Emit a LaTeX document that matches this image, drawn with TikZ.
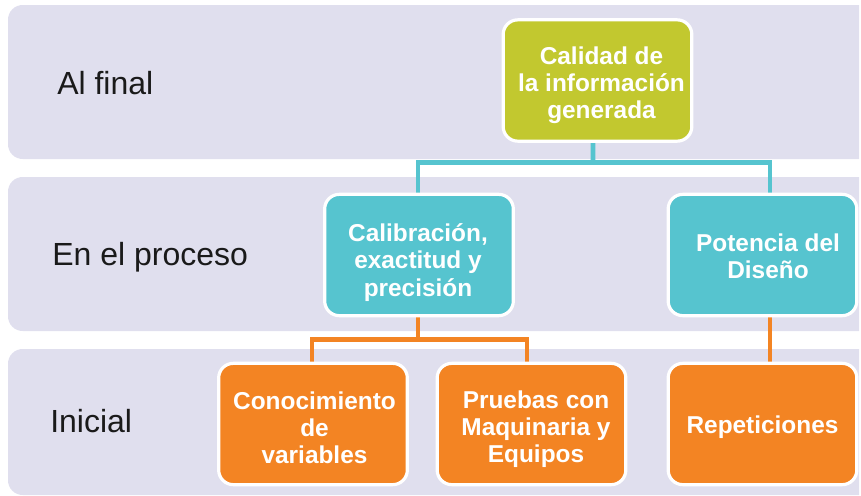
\documentclass[tikz,border=0pt]{standalone}
\usepackage{fontspec}
\setmainfont{Liberation Sans}
\usetikzlibrary{calc}
\definecolor{bandc}{HTML}{E0DFEE}
\definecolor{olivec}{HTML}{C2C82F}
\definecolor{tealc}{HTML}{56C4CF}
\definecolor{orangec}{HTML}{F38423}
\definecolor{labelc}{HTML}{1A1A1A}
\pgfdeclarelayer{bands}
\pgfdeclarelayer{lines}
\pgfsetlayers{bands,lines,main}
\tikzset{
  box/.style={rectangle, rounded corners=11pt, draw=white, line width=2.4pt,
    minimum width=141.5pt, minimum height=91pt, inner sep=0pt},
  btext/.style={inner sep=0pt, align=center, text=white,
    font=\fontsize{18.3pt}{20.4pt}\selectfont\bfseries},
  band/.style={fill=bandc, rounded corners=11pt},
  lvl/.style={anchor=base west, inner sep=0pt, text=labelc, font=\fontsize{24pt}{28pt}\selectfont},
  tealline/.style={draw=tealc, line width=3.5pt},
  orangeline/.style={draw=orangec, line width=3.5pt}
}
\begin{document}
\begin{tikzpicture}[x=0.75pt,y=-0.75pt]
\useasboundingbox (0,0) rectangle (861,496);
\begin{pgfonlayer}{bands}
\begin{scope}
\clip (0,0) rectangle (859,496);
\path[band] (8,5) rectangle (880,159);
\path[band] (8,177) rectangle (880,331);
\path[band] (8,349) rectangle (880,495);
\end{scope}
\end{pgfonlayer}
\node[lvl] (l1) at (57,94) {Al final};
\node[lvl] (l2) at (52,265) {En el proceso};
\node[lvl] (l3) at (50,432) {Inicial};
% boxes
\node[box, fill=olivec] (cal) at (597.5,80.5) {};
\node[box, fill=tealc] (calib) at (419,255) {};
\node[box, fill=tealc] (pot) at (762.5,255) {};
\node[box, fill=orangec] (conoc) at (313,424) {};
\node[box, fill=orangec] (prue) at (531.5,424) {};
\node[box, fill=orangec] (rep) at (762.5,424) {};
% box texts
\node[btext] (calT) at ($(cal.center)+(4,4.5)$) {Calidad de\\la información\\generada};
\node[btext] (calibT) at ($(calib.center)+(-1,7.5)$) {Calibración,\\exactitud y\\precisión};
\node[btext] (potT) at ($(pot.center)+(5.5,1.5)$) {Potencia del\\Diseño};
\node[btext] (conocT) at ($(conoc.center)+(1.5,3.5)$) {Conocimiento\\de\\variables};
\node[btext] (prueT) at ($(prue.center)+(4.5,5)$) {Pruebas con\\Maquinaria y\\Equipos};
\node[btext] (repT) at ($(rep.center)+(0,3.5)$) {Repeticiones};
\begin{pgfonlayer}{lines}
\coordinate (tj) at ($(cal.south)+(-4.5,19.5)$);
\coordinate (oj) at ($(calib.south)+(-1,22.5)$);
\draw[tealline] ([xshift=-3.4pt]cal.south) -- (tj);
\draw[tealline] (tj) -| ([xshift=-0.75pt]calib.north);
\draw[tealline] (tj) -| ([xshift=5.6pt]pot.north);
\draw[orangeline] ([xshift=-0.75pt]calib.south) -- (oj);
\draw[orangeline] (oj) -| ([xshift=-0.75pt]conoc.north);
\draw[orangeline] (oj) -| ([xshift=-3.4pt]prue.north);
\draw[orangeline] ([xshift=5.6pt]pot.south) -- ([xshift=5.6pt]rep.north);
\end{pgfonlayer}
\end{tikzpicture}
\end{document}
